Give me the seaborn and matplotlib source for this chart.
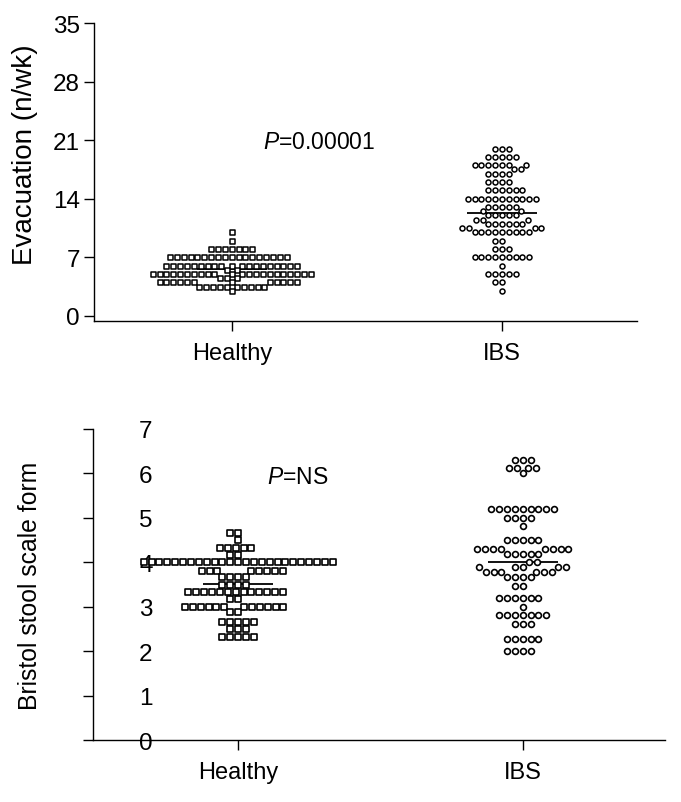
import numpy as np
import pandas as pd
import seaborn as sns
import matplotlib
matplotlib.use("Agg")
import matplotlib.pyplot as plt

# -------------------------------
# values (value, count) per row of dots
groups = ["Healthy", "IBS"]

evac_healthy_vals = [10, 9, 8, 7, 6, 5.5, 5, 4.5, 4, 3.5, 3]
evac_healthy_cnt = [1, 1, 7, 18, 19, 2, 22, 3, 12, 10, 1]

evac_ibs_vals = [20, 19, 18, 17.5, 17, 16, 15, 14, 13, 12.5, 12, 11.5, 11, 10.5, 10, 9, 8, 7, 6, 5, 4, 3]
evac_ibs_cnt = [3, 5, 7, 2, 4, 4, 6, 11, 5, 2, 5, 3, 6, 4, 9, 2, 3, 9, 1, 5, 2, 1]

bss_healthy_vals = [4.67, 4.5, 4.33, 4.17, 4.0, 3.8, 3.67, 3.5, 3.33, 3.17, 3.0, 2.89, 2.67, 2.5, 2.33]
bss_healthy_cnt = [2, 1, 5, 2, 25, 8, 4, 4, 13, 2, 12, 2, 5, 3, 5]

bss_ibs_vals = [6.31, 6.12, 6.0, 5.2, 5.0, 4.81, 4.5, 4.3, 4.2, 4.0, 3.89, 3.79, 3.67, 3.48, 3.2, 3.0, 2.82, 2.62, 2.28, 2.0]
bss_ibs_cnt = [3, 4, 1, 9, 4, 1, 5, 8, 5, 2, 5, 6, 4, 2, 6, 1, 7, 3, 5, 4]


def expand(vals, cnt, name):
    return pd.DataFrame({"group": name, "value": np.repeat(vals, cnt)})


evac = pd.concat([expand(evac_healthy_vals, evac_healthy_cnt, "Healthy"),
                  expand(evac_ibs_vals, evac_ibs_cnt, "IBS")], ignore_index=True)
bss = pd.concat([expand(bss_healthy_vals, bss_healthy_cnt, "Healthy"),
                 expand(bss_ibs_vals, bss_ibs_cnt, "IBS")], ignore_index=True)

sns.set_style("ticks")
plt.rcParams["font.family"] = ["Liberation Sans", "DejaVu Sans"]
plt.rcParams["text.color"] = "black"
plt.rcParams["axes.labelcolor"] = "black"
plt.rcParams["mathtext.fontset"] = "custom"
plt.rcParams["mathtext.it"] = "Liberation Sans:italic"
plt.rcParams["mathtext.rm"] = "Liberation Sans"

fig = plt.figure(figsize=(6.81, 8.03), dpi=100)
ax1 = fig.add_axes([0.138, 0.5994, 0.7974, 0.3707])
ax2 = fig.add_axes([0.1366, 0.0766, 0.8399, 0.388])


def dot_panel(ax, df, msize, lw):
    # squares for healthy, circles for IBS, like the original Prism plot
    for g, m in zip(groups, ["s", "o"]):
        sub = df[df["group"] == g]
        sns.swarmplot(data=sub, x="group", y="value", order=groups, ax=ax,
                      marker=m, color="white", edgecolor="black",
                      linewidth=lw, size=msize, warn_thresh=1)
    # mean line
    sns.pointplot(data=df, x="group", y="value", order=groups, ax=ax,
                  estimator="mean", errorbar=None, color="black",
                  marker="_", linestyle="none", markersize=50,
                  markeredgewidth=1.3)
    ax.set_xlim(-0.51, 1.5)
    ax.set_xlabel("")
    sns.despine(ax=ax)
    ax.tick_params(axis="both", length=7, width=1, colors="black")
    ax.tick_params(axis="x", labelsize=17, pad=8)
    for s in ["left", "bottom"]:
        ax.spines[s].set_linewidth(1)
        ax.spines[s].set_color("black")


# -------------------------------
# top panel: evacuations per week
dot_panel(ax1, evac, 3.6, 1.1)
ax1.set_ylim(-0.57, 35)
ax1.set_yticks(range(0, 36, 7))
ax1.tick_params(axis="y", labelsize=17.5, pad=3)
ax1.set_ylabel("Evacuation (n/wk)", fontsize=20)
ax1.yaxis.set_label_coords(-0.103, 0.56)
ax1.text(0.115, 20.8, r"$\it{P}$=0.00001", fontsize=16.5, va="center")

# -------------------------------
# bottom panel: Bristol stool form scale
dot_panel(ax2, bss, 4.2, 1.2)
ax2.set_ylim(0, 7)
ax2.set_yticks(range(0, 8))
ax2.tick_params(axis="y", labelsize=17.5, pad=-50)
ax2.set_ylabel("Bristol stool scale form", fontsize=17.8)
ax2.yaxis.set_label_coords(-0.089, 0.5)
ax2.text(0.10, 5.94, r"$\it{P}$=NS", fontsize=16.5, va="center")

fig.savefig("out.png", dpi=100)
plt.close(fig)
